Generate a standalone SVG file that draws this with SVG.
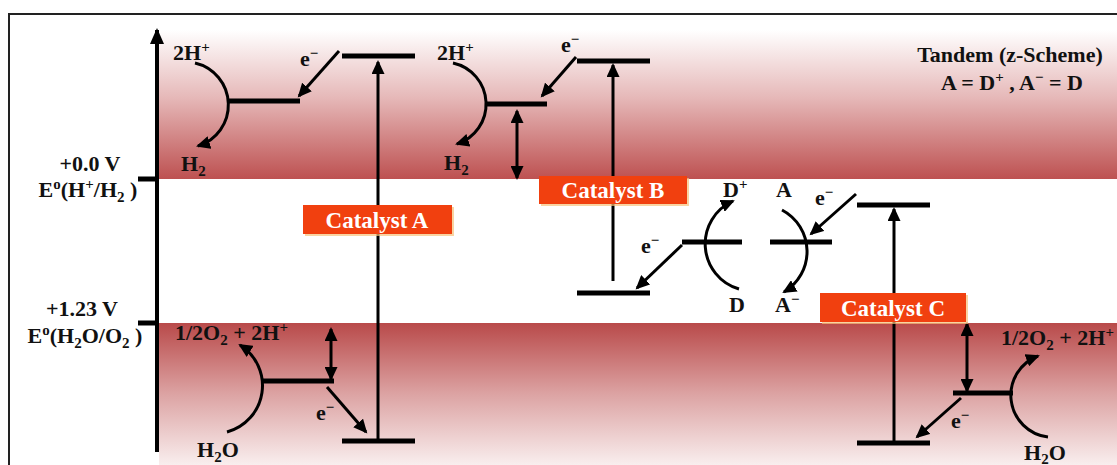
<svg xmlns="http://www.w3.org/2000/svg" width="1117" height="465" viewBox="0 0 1117 465">
<style>
text{font-family:"Liberation Serif","Times New Roman",serif;font-weight:bold;fill:#111}
.lv{stroke:#000;stroke-width:5;fill:none}
.ar{stroke:#000;stroke-width:3;fill:none;marker-end:url(#ah)}
.dbl{stroke:#000;stroke-width:3;fill:none;marker-end:url(#ah);marker-start:url(#ahs)}
.box{fill:#f1400f}
.glow{fill:#f6c27a;opacity:0.7}
.bt{fill:#fff;font-size:23px;text-anchor:middle}
.ax{font-size:22px;text-anchor:middle}
.rx{font-size:22px}
.sm{font-size:15px}
</style>
<defs>
<linearGradient id="gTop" x1="0" y1="0" x2="0" y2="1">
<stop offset="0" stop-color="#ffffff"/>
<stop offset="0.45" stop-color="#e6b9b9"/>
<stop offset="1" stop-color="#bd5151"/>
</linearGradient>
<linearGradient id="gBot" x1="0" y1="0" x2="0" y2="1">
<stop offset="0" stop-color="#b94a4a"/>
<stop offset="0.5" stop-color="#dca3a3"/>
<stop offset="1" stop-color="#f9eeee"/>
</linearGradient>
<marker id="ah" markerUnits="userSpaceOnUse" markerWidth="15" markerHeight="13" refX="12" refY="6.5" orient="auto">
<path d="M0,0 L14,6.5 L0,13 z" fill="#000"/>
</marker>
<marker id="ahs" markerUnits="userSpaceOnUse" markerWidth="15" markerHeight="13" refX="12" refY="6.5" orient="auto-start-reverse">
<path d="M0,0 L14,6.5 L0,13 z" fill="#000"/>
</marker>
<marker id="axh" markerUnits="userSpaceOnUse" markerWidth="16" markerHeight="14" refX="14" refY="7" orient="auto">
<path d="M0,0 L16,7 L0,14 z" fill="#000"/>
</marker>
</defs>
<rect x="0" y="0" width="1117" height="465" fill="#fff"/>
<rect x="9" y="14" width="1130" height="470" fill="#fff" stroke="#222" stroke-width="2"/>
<rect x="159" y="30" width="958" height="149" fill="url(#gTop)"/>
<rect x="159" y="323" width="958" height="142" fill="url(#gBot)"/>

<g id="axis">
<line x1="157" y1="452" x2="157" y2="30" stroke="#000" stroke-width="4" marker-end="url(#axh)"/>
<line x1="138" y1="179" x2="157" y2="179" stroke="#000" stroke-width="5"/>
<line x1="138" y1="323" x2="157" y2="323" stroke="#000" stroke-width="5"/>
<text class="ax" x="90" y="171">+0.0 V</text>
<text class="ax" x="88" y="197">E<tspan class="sm" dy="-8">o</tspan><tspan dy="8">(H</tspan><tspan class="sm" dy="-8">+</tspan><tspan dy="8">/H</tspan><tspan class="sm" dy="5">2</tspan><tspan dy="-5"> )</tspan></text>
<text class="ax" x="82" y="316">+1.23 V</text>
<text class="ax" x="85" y="343">E<tspan class="sm" dy="-8">o</tspan><tspan dy="8">(H</tspan><tspan class="sm" dy="5">2</tspan><tspan dy="-5">O/O</tspan><tspan class="sm" dy="5">2</tspan><tspan dy="-5"> )</tspan></text>
</g>

<g id="connectors">
<!-- catalyst A -->
<line class="ar" x1="378" y1="440" x2="378" y2="62"/>
<line class="ar" x1="339" y1="51" x2="299" y2="96"/>
<path class="ar" d="M195,63 A43,43 0 0 1 198,146"/>
<line class="dbl" x1="331" y1="329" x2="331" y2="379"/>
<path class="ar" d="M227,432 A48,48 0 0 0 240,345"/>
<line class="ar" x1="327" y1="387" x2="366" y2="432"/>
<!-- catalyst B -->
<line class="ar" x1="613" y1="281" x2="613" y2="65"/>
<line class="ar" x1="576" y1="57" x2="542" y2="96"/>
<path class="ar" d="M453,63 A42,42 0 0 1 457,144"/>
<line class="dbl" x1="517" y1="111" x2="517" y2="178"/>
<line class="ar" x1="682" y1="245" x2="637" y2="288"/>
<!-- mediator -->
<path class="ar" d="M739,289 A47,47 0 0 1 733,201"/>
<path class="ar" d="M782,210 A47,47 0 0 1 784,292"/>
<!-- catalyst C -->
<line class="ar" x1="856" y1="194" x2="811" y2="234"/>
<line class="ar" x1="894" y1="441" x2="894" y2="209"/>
<line class="dbl" x1="967" y1="324" x2="967" y2="391"/>
<path class="ar" d="M1048,437 A42,42 0 0 1 1038,356"/>
<line class="ar" x1="961" y1="398" x2="917" y2="437"/>
</g>

<g id="catalyst-a">
<line class="lv" x1="342" y1="56" x2="415" y2="56"/>
<line class="lv" x1="342" y1="441" x2="415" y2="441"/>
<line class="lv" x1="228" y1="101" x2="300" y2="101"/>
<line class="lv" x1="263" y1="381" x2="334" y2="381"/>
<rect class="glow" x="305" y="207" width="149" height="29"/>
<rect class="box" x="303" y="205" width="149" height="29"/>
<text class="bt" x="377" y="228">Catalyst A</text>
<text class="rx" x="173" y="60">2H<tspan class="sm" dy="-8">+</tspan></text>
<text class="rx" x="181" y="171">H<tspan class="sm" dy="5">2</tspan></text>
<text class="rx" x="300" y="66">e<tspan class="sm" dy="-8">−</tspan></text>
<text class="rx" x="175" y="340">1/2O<tspan class="sm" dy="5">2</tspan><tspan dy="-5"> + 2H</tspan><tspan class="sm" dy="-8">+</tspan></text>
<text class="rx" x="197" y="457">H<tspan class="sm" dy="5">2</tspan><tspan dy="-5">O</tspan></text>
<text class="rx" x="316" y="420">e<tspan class="sm" dy="-8">−</tspan></text>
</g>

<g id="catalyst-b">
<line class="lv" x1="577" y1="61" x2="650" y2="61"/>
<line class="lv" x1="486" y1="104" x2="547" y2="104"/>
<line class="lv" x1="577" y1="293" x2="650" y2="293"/>
<rect class="glow" x="541" y="178" width="148" height="28"/>
<rect class="box" x="539" y="176" width="148" height="28"/>
<text class="bt" x="613" y="198">Catalyst B</text>
<text class="rx" x="437" y="60">2H<tspan class="sm" dy="-8">+</tspan></text>
<text class="rx" x="444" y="170">H<tspan class="sm" dy="5">2</tspan></text>
<text class="rx" x="561" y="52">e<tspan class="sm" dy="-8">−</tspan></text>
<text class="rx" x="641" y="253">e<tspan class="sm" dy="-8">−</tspan></text>
</g>

<g id="mediator">
<line class="lv" x1="682" y1="242" x2="742" y2="242"/>
<line class="lv" x1="770" y1="242" x2="832" y2="242"/>
<text class="rx" x="723" y="197">D<tspan class="sm" dy="-8">+</tspan></text>
<text class="rx" x="776" y="197">A</text>
<text class="rx" x="729" y="312">D</text>
<text class="rx" x="775" y="312">A<tspan class="sm" dy="-8">−</tspan></text>
</g>

<g id="catalyst-c">
<line class="lv" x1="857" y1="205" x2="930" y2="205"/>
<line class="lv" x1="857" y1="443" x2="930" y2="443"/>
<line class="lv" x1="953" y1="393" x2="1013" y2="393"/>
<rect class="glow" x="822" y="295" width="146" height="29"/>
<rect class="box" x="820" y="293" width="146" height="29"/>
<text class="bt" x="893" y="316">Catalyst C</text>
<text class="rx" x="815" y="205">e<tspan class="sm" dy="-8">−</tspan></text>
<text class="rx" x="1001" y="345">1/2O<tspan class="sm" dy="5">2</tspan><tspan dy="-5"> + 2H</tspan><tspan class="sm" dy="-8">+</tspan></text>
<text class="rx" x="1024" y="460">H<tspan class="sm" dy="4">2</tspan><tspan dy="-4">O</tspan></text>
<text class="rx" x="951" y="428">e<tspan class="sm" dy="-8">−</tspan></text>
</g>

<g id="legend">
<text class="ax" x="1010" y="62">Tandem (z-Scheme)</text>
<text class="ax" x="1012" y="90">A = D<tspan class="sm" dy="-8">+</tspan><tspan dy="8"> , A</tspan><tspan class="sm" dy="-8">−</tspan><tspan dy="8"> = D</tspan></text>
</g>
</svg>
